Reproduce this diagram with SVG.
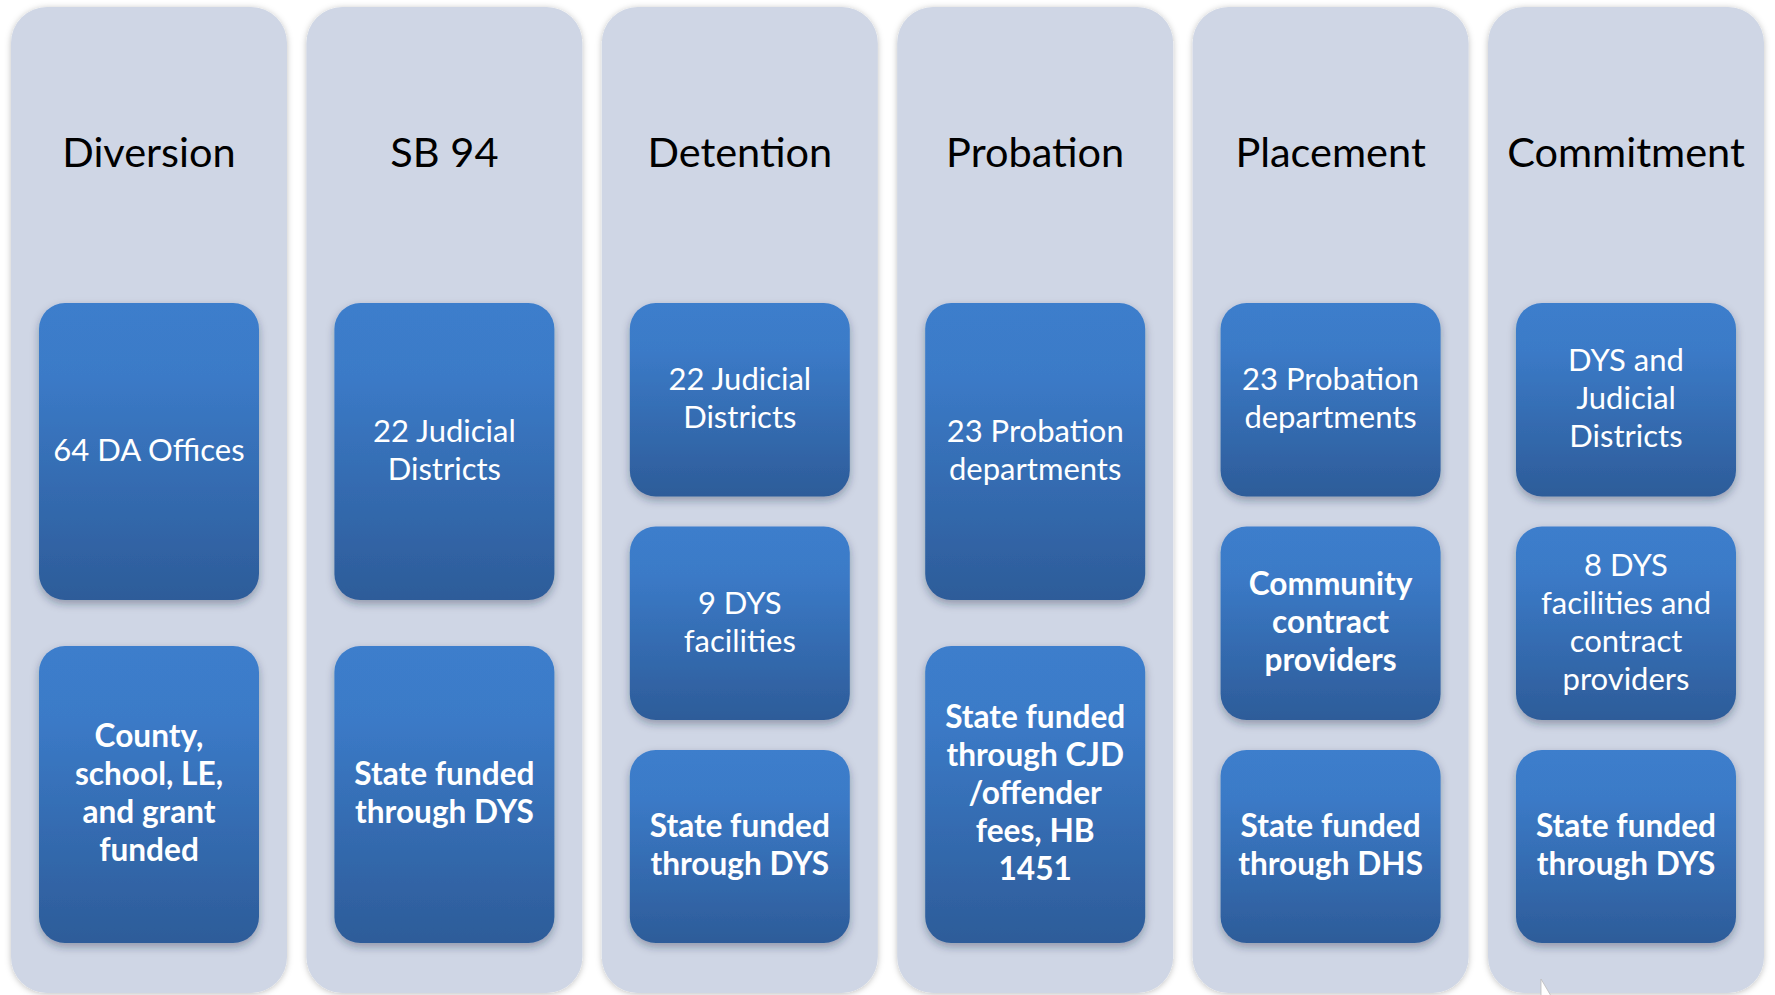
<svg xmlns="http://www.w3.org/2000/svg" width="1775" height="995" viewBox="0 0 1775 995">
  <defs>
    <linearGradient id="boxFill" x1="0" y1="0" x2="0" y2="1">
      <stop offset="0" stop-color="#3C7ECC"/>
      <stop offset="0.25" stop-color="#3B7AC7"/>
      <stop offset="1" stop-color="#2D5C99"/>
    </linearGradient>
    <filter id="colShadow" x="-10%" y="-5%" width="120%" height="110%">
      <feDropShadow dx="0" dy="1" stdDeviation="3" flood-color="#000" flood-opacity="0.25"/>
    </filter>
    <filter id="boxShadow" x="-10%" y="-10%" width="120%" height="125%">
      <feDropShadow dx="0" dy="4" stdDeviation="4" flood-color="#1a2a45" flood-opacity="0.35"/>
    </filter>
  </defs>
  <style>
    .col { fill: #CFD6E5; filter: url(#colShadow); }
    .box { fill: url(#boxFill); filter: url(#boxShadow); }
    .head { font-family: Lato, "Liberation Sans", sans-serif; font-size: 41.5px; fill: #000; text-anchor: middle; }
    .lbl { font-family: Lato, "Liberation Sans", sans-serif; font-size: 31px; fill: #fff; text-anchor: middle; }
    .bold { font-weight: bold; font-size: 31.6px; }
  </style>

  <rect width="1775" height="995" fill="#fff"/>

  <!-- Stage: Diversion -->
  <g id="diversion">
    <rect class="col" x="11" y="7" width="276" height="986" rx="36"/>
    <text class="head" x="149" y="167">Diversion</text>
    <rect class="box" x="39" y="303" width="220" height="297" rx="26"/>
    <text class="lbl" x="149" y="461">64 DA Offices</text>
    <rect class="box" x="39" y="646" width="220" height="297" rx="26"/>
    <text class="lbl bold" x="149" y="746.5">County,<tspan x="149" dy="38">school, LE,</tspan><tspan x="149" dy="38">and grant</tspan><tspan x="149" dy="38">funded</tspan></text>
  </g>

  <!-- Stage: SB 94 -->
  <g id="sb94">
    <rect class="col" x="306.4" y="7" width="276" height="986" rx="36"/>
    <text class="head" x="444.4" y="167">SB 94</text>
    <rect class="box" x="334.4" y="303" width="220" height="297" rx="26"/>
    <text class="lbl" x="444.4" y="441.5">22 Judicial<tspan x="444.4" dy="38">Districts</tspan></text>
    <rect class="box" x="334.4" y="646" width="220" height="297" rx="26"/>
    <text class="lbl bold" x="444.4" y="784.5">State funded<tspan x="444.4" dy="38">through DYS</tspan></text>
  </g>

  <!-- Stage: Detention -->
  <g id="detention">
    <rect class="col" x="601.8" y="7" width="276" height="986" rx="36"/>
    <text class="head" x="739.8" y="167">Detention</text>
    <rect class="box" x="629.8" y="303" width="220" height="193.5" rx="26"/>
    <text class="lbl" x="739.8" y="390">22 Judicial<tspan x="739.8" dy="38">Districts</tspan></text>
    <rect class="box" x="629.8" y="526.5" width="220" height="193.5" rx="26"/>
    <text class="lbl" x="739.8" y="613.5">9 DYS<tspan x="739.8" dy="38">facilities</tspan></text>
    <rect class="box" x="629.8" y="750" width="220" height="193" rx="26"/>
    <text class="lbl bold" x="739.8" y="837">State funded<tspan x="739.8" dy="38">through DYS</tspan></text>
  </g>

  <!-- Stage: Probation -->
  <g id="probation">
    <rect class="col" x="897.2" y="7" width="276" height="986" rx="36"/>
    <text class="head" x="1035.2" y="167">Probation</text>
    <rect class="box" x="925.2" y="303" width="220" height="297" rx="26"/>
    <text class="lbl" x="1035.2" y="441.5">23 Probation<tspan x="1035.2" dy="38">departments</tspan></text>
    <rect class="box" x="925.2" y="646" width="220" height="297" rx="26"/>
    <text class="lbl bold" x="1035.2" y="727.5">State funded<tspan x="1035.2" dy="38">through CJD</tspan><tspan x="1035.2" dy="38">/offender</tspan><tspan x="1035.2" dy="38">fees, HB</tspan><tspan x="1035.2" dy="38">1451</tspan></text>
  </g>

  <!-- Stage: Placement -->
  <g id="placement">
    <rect class="col" x="1192.6" y="7" width="276" height="986" rx="36"/>
    <text class="head" x="1330.6" y="167">Placement</text>
    <rect class="box" x="1220.6" y="303" width="220" height="193.5" rx="26"/>
    <text class="lbl" x="1330.6" y="390">23 Probation<tspan x="1330.6" dy="38">departments</tspan></text>
    <rect class="box" x="1220.6" y="526.5" width="220" height="193.5" rx="26"/>
    <text class="lbl bold" x="1330.6" y="594.5">Community<tspan x="1330.6" dy="38">contract</tspan><tspan x="1330.6" dy="38">providers</tspan></text>
    <rect class="box" x="1220.6" y="750" width="220" height="193" rx="26"/>
    <text class="lbl bold" x="1330.6" y="837">State funded<tspan x="1330.6" dy="38">through DHS</tspan></text>
  </g>

  <!-- Stage: Commitment -->
  <g id="commitment">
    <rect class="col" x="1488" y="7" width="276" height="986" rx="36"/>
    <text class="head" x="1626" y="167">Commitment</text>
    <rect class="box" x="1516" y="303" width="220" height="193.5" rx="26"/>
    <text class="lbl" x="1626" y="371">DYS and<tspan x="1626" dy="38">Judicial</tspan><tspan x="1626" dy="38">Districts</tspan></text>
    <rect class="box" x="1516" y="526.5" width="220" height="193.5" rx="26"/>
    <text class="lbl" x="1626" y="575.5">8 DYS<tspan x="1626" dy="38">facilities and</tspan><tspan x="1626" dy="38">contract</tspan><tspan x="1626" dy="38">providers</tspan></text>
    <rect class="box" x="1516" y="750" width="220" height="193" rx="26"/>
    <text class="lbl bold" x="1626" y="837">State funded<tspan x="1626" dy="38">through DYS</tspan></text>
  </g>

  <!-- no connectors between stages -->
  <g id="connectors"/>

  <!-- pointer tip at the lower edge -->
  <polygon points="1541,979 1541,996 1551,996" fill="#fff" stroke="#bbb" stroke-width="0.8"/>
</svg>
